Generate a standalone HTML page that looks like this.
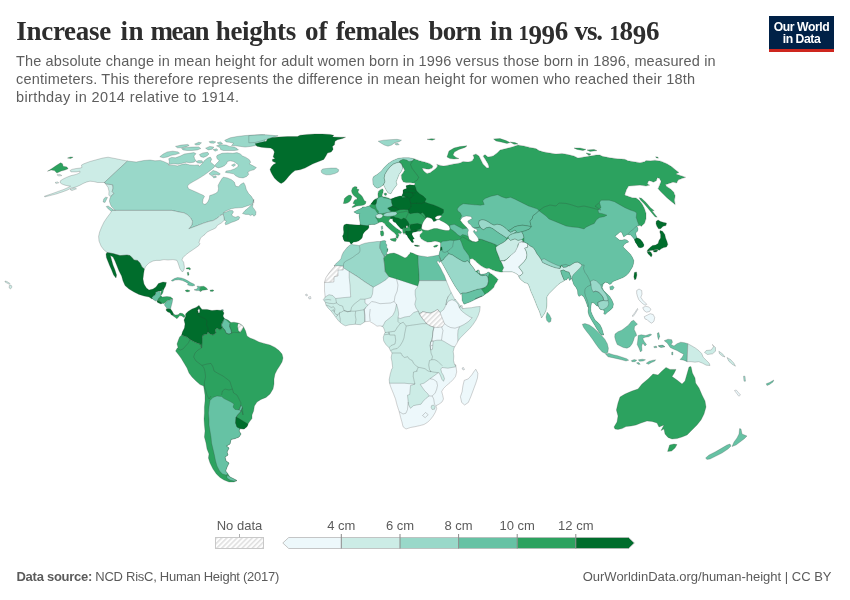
<!DOCTYPE html>
<html><head><meta charset="utf-8">
<style>
html,body{margin:0;padding:0;background:#fff;}
body{width:850px;height:600px;overflow:hidden;position:relative;font-family:"Liberation Sans",sans-serif;}
#title{position:absolute;left:16.5px;top:15.5px;font-family:"Liberation Serif",serif;font-weight:bold;font-size:27px;line-height:31px;color:#2d2d2d;white-space:nowrap;width:700px;height:31px;}
#title > span{position:absolute;top:0;}
#title i{font-style:normal;}#title i.a{font-size:20.7px;}#title i.b{position:relative;top:4.3px;}
#sub{position:absolute;left:16px;top:51.6px;font-size:14.5px;line-height:18.4px;color:#5e5e5e;white-space:nowrap;}
#logo{position:absolute;left:769px;top:15.8px;width:65px;height:36px;background:#002147;}
#logo .r{position:absolute;left:0;bottom:0;width:100%;height:2.7px;background:#ce261e;}
#logo .t{position:absolute;left:0;top:4.8px;width:100%;text-align:center;color:#fff;font-weight:bold;font-size:12.2px;line-height:12px;letter-spacing:-0.45px;}
#fl{position:absolute;left:16.5px;top:569px;font-size:13px;letter-spacing:-0.27px;color:#5b5b5b;white-space:nowrap;}
#fr{position:absolute;right:18.5px;top:569px;font-size:13px;color:#5b5b5b;white-space:nowrap;}
svg{position:absolute;left:0;top:0;}
#s1{letter-spacing:0.143px}#s2{letter-spacing:0.202px}#s3{letter-spacing:0.38px}
</style></head><body>
<div id="title"><span style="left:-0.2px;letter-spacing:-0.31px">Increase</span> <span style="left:103.9px;letter-spacing:0.73px">in</span> <span style="left:133.9px;letter-spacing:-1.30px">mean</span> <span style="left:199.3px;letter-spacing:-0.36px">heights</span> <span style="left:288.5px;letter-spacing:0.00px">of</span> <span style="left:319.2px;letter-spacing:-0.57px">females</span> <span style="left:412.1px;letter-spacing:-0.88px">born</span> <span style="left:473.6px;letter-spacing:0.23px">in</span> <span style="left:502.0px;letter-spacing:-0.4px"><i class="a">1</i><i class="b">9</i><i class="b">9</i>6</span> <span style="left:558.0px;letter-spacing:-1.09px">vs.</span> <span style="left:593.0px;letter-spacing:-0.3px"><i class="a">1</i>8<i class="b">9</i>6</span></div>
<div id="sub"><span id="s1">The absolute change in mean height for adult women born in 1996 versus those born in 1896, measured in</span><br><span id="s2">centimeters. This therefore represents the difference in mean height for women who reached their 18th</span><br><span id="s3">birthday in 2014 relative to 1914.</span></div>
<div id="logo"><div class="t">Our World<br>in Data</div><div class="r"></div></div>
<div id="fl"><b>Data source:</b> NCD RisC, Human Height (2017)</div>
<div id="fr">OurWorldinData.org/human-height | CC BY</div>
<svg width="850" height="600" viewBox="0 0 850 600">
<defs><pattern id="hatch" width="3.6" height="4" patternUnits="userSpaceOnUse" patternTransform="rotate(45)"><rect width="3.6" height="4" fill="#fdfdfd"/><rect width="1.5" height="4" fill="#dedede"/></pattern></defs>
<g stroke="#333" stroke-opacity="0.55" stroke-width="0.4" stroke-linejoin="round">
<path fill="#2ca25f" d="M47.5,171.2 51.9,168.5 56.2,165.6 60.6,162.8 62.5,163.8 63.1,166.2 66.9,166.9 68.1,168.8 65,170 61.2,171 56.9,173.1 54.4,170.6 51.2,170Z"/>
<path fill="#2ca25f" d="M67.5,158.1 70.6,156.9 73.1,157.2 70.6,158.5Z"/>
<path fill="#ccece6" d="M127.5,161 121.2,159.8 115,158.5 108.1,157.2 102.5,158.1 96.2,159.8 90,161.5 83.8,163.8 81.5,165 81.9,167.5 80,168.1 76.2,168.5 71.9,169.4 70,170.6 71,171.9 76.2,171.9 80,171.2 79.8,172.8 76.2,174.4 71.2,175.6 66.9,177.2 63.1,179 60.6,180.6 60,182.5 61.9,184 65,185.2 68.8,186 70.6,186.2 68.1,187.5 63.8,189.4 58.8,191.2 52.5,193.5 47.5,195.2 44.4,196.2 44.8,196.9 50,195.6 56.2,194 62.5,191.9 67.5,190 71.2,188.1 76.2,186.9 80,185.2 83.1,183.5 86.9,181.9 90,181.2 93.8,181.6 97.5,182.5 101.2,182.5 104.4,182.5Z"/>
<path fill="#ccece6" d="M104.4,182.5 106.2,183.8 110,184.4 112.8,184.8 113.1,188.1 112.2,191.5 114,193.5 111.5,195.6 110,196.5 108.8,195 109,191.2 108.1,187.5 106.2,184.8Z"/>
<path fill="#ccece6" d="M55,182.5 57.5,181.9 58.8,182.8 56.2,183.5Z"/>
<path fill="#ccece6" d="M56.9,174.8 60,174.4 61.9,175.6 58.8,176Z"/>
<path fill="#ccece6" d="M70,189.4 75,187.8 76.5,188.8 71.9,190.6Z"/>
<path fill="#99d8c9" d="M127.5,161 136.2,162 143.8,160.5 150,160 155,160.8 160.5,160.4 164.6,161.9 168,163.5 168.9,165.4 173.4,165.2 177.5,165.9 181.6,164.6 185.7,163.8 189.8,164.9 194.6,165.2 198.5,164.9 199.4,166.5 202.1,163.8 204.5,160.5 207.6,158.1 210.3,157.1 211.7,159.2 210.3,161.9 213.1,164.2 215.1,166 213.5,167.9 209.7,171 204.2,175.1 198.7,178.6 193.3,181.6 189.2,184 187.5,186.1 188.5,188.8 191.9,190.2 196,192 200.1,193.9 203.1,195.2 204.5,196.3 203.1,199.1 202.6,202.5 203.9,204.5 206.2,203.8 208.3,201.1 209.4,198 209.7,195.6 212.4,194.7 215.8,193.3 217.9,191.5 218.5,188.8 218.1,185.4 219.9,182 222,178.6 223.3,177.2 227.4,177.9 231.5,179.7 234.3,182 235.6,186.1 238.4,186.8 241.1,184 243.8,182.7 245.2,185.4 246.3,189.5 248.6,193.6 251.3,196.3 253.4,199.7 253.7,203.2 253.8,199.4 252.5,203.8 250,205 246.2,206.2 242.5,207.5 238.8,207.8 235,208.1 231.2,208.8 228.1,210 225,211.5 223.1,213.1 226.2,211.9 229.4,210.6 232.5,210.6 233.5,211.9 231.9,214.4 232.5,216.2 235.6,217.2 238.1,216.2 239.8,217.2 238.8,219.4 235,221.2 231.2,222.5 228.1,224 225.6,224.8 225,223.1 226.5,221.2 224.4,220.2 223.8,216.9 223.1,214 220,215.6 217.5,218.1 213.1,220.6 208.8,221.5 203.8,223.1 198.8,225 193.8,226.9 188.8,228.8 191.9,225 192.5,221.2 190.6,217.8 187.5,214.8 183.8,212.8 180,212.2 172,210.4 112,210.4 115.6,210.5 115,210 113.1,208.1 111.2,206.2 110.2,203.8 109.4,201.2 110,198.1 111.5,195.6 114,193.5 112.2,191.5 113.1,188.1 112.8,184.8 110,184.4 106.2,183.8 104.4,182.5Z"/>
<path fill="#99d8c9" d="M159.8,156.7 163.2,154 167.3,151.9 172.8,151.2 178.2,151.9 179.6,153.3 175.5,154.6 171.4,155.3 167.3,157 163.2,157.8Z"/>
<path fill="#99d8c9" d="M168.7,164.6 169.3,161.5 168.7,158.7 171.4,157.4 175.5,157.8 180.3,156 184.4,154 189.2,153.3 193.9,152.6 196,153.7 193.9,156 194.6,158.7 196,160.8 193.9,162.2 189.8,162.8 186.4,162.2 182.3,163.3 178.2,164.2 173.4,163.8Z"/>
<path fill="#99d8c9" d="M175.5,146.4 181,145.1 187.8,144.4 189.2,145.5 185.7,146.9 181.6,147.8 177.5,147.8Z"/>
<path fill="#99d8c9" d="M181.6,148.5 186.4,147.4 191.9,147.1 198.7,146.9 200.8,148.5 197.4,149.9 191.9,150.5 187.1,150.5 183,149.9Z"/>
<path fill="#99d8c9" d="M194.6,144.1 198.7,142.3 201.5,142.8 199.4,144.7 196,145.1Z"/>
<path fill="#99d8c9" d="M199.4,154.6 202.8,152.9 207.6,152.3 209,154 206.9,156 203.5,157.4 200.8,156.7Z"/>
<path fill="#99d8c9" d="M196,161.5 198.7,160.5 202.1,160.8 202.8,162.4 200.1,163.3 197.4,162.8Z"/>
<path fill="#99d8c9" d="M216.5,145.8 220.6,144.7 226.1,145.1 229.5,146.4 234.3,147.1 237,148.5 238.4,149.9 234.3,150.5 228.8,150.5 223.3,150.5 220.6,149.6 220.3,147.8Z"/>
<path fill="#99d8c9" d="M224.7,140.3 230.2,137.8 237,136.5 245.2,135.5 253.4,135.1 261.6,134.6 265,134.8 265,141.7 260.2,144.1 256.1,145.5 250.7,146.4 245.2,147.1 240.4,146.4 235.6,145.8 231.5,145.5 233.6,143.3 229.5,142.3 226.1,141.9Z"/>
<path fill="#99d8c9" d="M209,141.7 212.4,141 215.8,141.9 213.8,143.3 210.3,143Z"/>
<path fill="#99d8c9" d="M217.2,142.8 220.6,141.9 222.6,143.7 219.2,144.4Z"/>
<path fill="#99d8c9" d="M205.6,148.2 209.7,146.4 213.8,147.1 212.4,149.2 208.3,149.9Z"/>
<path fill="#99d8c9" d="M213.1,149.6 216.5,148.8 217.9,150.1 215.1,151.2Z"/>
<path fill="#99d8c9" d="M217.2,155.3 222,153.3 227.4,152.9 232.9,153.3 237,152.6 240.4,154 242.5,156 245.9,157.4 249.3,159.7 250.7,162.2 249.3,163.8 252.7,165.6 256.4,167.6 254.1,169.7 250.7,170.6 247.9,172 248.6,174.5 246.6,176.5 243.1,177.9 239,177.5 235.6,175.8 233.6,173.8 229.5,173.1 225.4,172.4 226.1,171 230.2,170.4 234.3,169 237.7,166.9 238.4,164.9 235.6,162.8 233.6,161.5 230.2,160.8 227.4,161.5 226.7,163.5 224.7,165.6 222,166.9 218.5,167.9 215.8,166.9 215.1,164.9 217.2,162.8 219.2,160.8 217.2,158.7 216.5,156.7Z"/>
<path fill="#99d8c9" d="M209,173.8 213.1,170.4 216.5,171.5 220.3,173.8 219.2,175.1 215.1,174.5 211.7,175.8Z"/>
<path fill="#99d8c9" d="M212.4,176.5 215.8,175.8 216.5,177.2 213.8,177.9Z"/>
<path fill="#99d8c9" d="M231.5,165.2 234.3,163.8 235.6,164.9 233.6,166.5Z"/>
<path fill="#99d8c9" d="M242.5,213.5 245,210.6 248.1,208.1 251.2,205 253.1,203.8 252.5,206.9 254.4,209.4 256,211.9 255.6,215 253.8,216.2 252.5,214.4 250.6,215.6 248.5,214.4 245.6,214.4Z"/>
<path fill="#99d8c9" d="M103.1,201.9 103.8,198.8 105.6,197.2 107.5,197.5 106.2,200 105,202.5Z"/>
<path fill="#99d8c9" d="M106.2,206.5 108.1,206 111.2,208.1 114.4,210.6 113.8,212.5 111.2,211.2 108.1,208.8Z"/>
<path fill="#ccece6" d="M112,210.4 172,210.4 180,212.2 183.8,212.8 187.5,214.8 190.6,217.8 192.5,221.2 191.9,225 188.8,228.8 193.8,226.9 198.8,225 203.8,223.1 208.8,221.5 213.1,220.6 217.5,218.1 220,215.6 223.1,214 223.8,216.9 224.4,220.2 221.2,223.1 217.5,225.2 215.6,228.1 212.8,229.4 210,230.6 206.9,232.2 205,234.4 202.5,236.2 200.6,238.1 199.8,240 199,242.5 200,243.8 198.8,245.6 196.2,247.5 192.5,250 188.8,252.5 185.6,255 183.1,257.5 181.9,260 183.6,262 184.4,267 184,270 182.4,272 180,269 178.4,264 177,260.4 173,259.6 168,260 164,259.6 160,260.4 156,260.4 153,261 149,263 146,266 144.4,269 142,267 140,263 137.6,260.4 134,260 132.4,258 130,255.6 127,255 120,255.6 113,253.6 107,252.4 103.6,249.6 101,246 99,241 98.6,236.4 99.6,232 101.6,227 104,222 107,217.6 110,213.6Z"/>
<path fill="#006d2c" d="M107,252.4 113,253.6 120,255.6 127,255 130,255.6 132.4,258 134,260 137.6,260.4 140,263 142,267 144.4,269 143.6,274 143,279 144,284 146.4,288 149,290 153,289 156,287 158.4,283.6 163,282 166.4,282.4 165.6,286 163.6,289.6 161.6,291 159,291 157,292 155,295 154.4,298 152,299 149,297 144,296 139,294.4 134,292 129,289 125,285.6 123,281 121.6,276 119,271 117,266 115,261 113,257 110.4,255.6 111.6,260 113,265 115,270 116.6,275 116,278 113.6,275 111.6,270 109.6,265.6 108,261.6 106.4,257.6 106,254Z"/>
<path fill="#99d8c9" d="M248.8,135.6 257.5,135 266.2,134.8 278.1,135.8 272.5,137.5 266.2,139.5 260,141.2 255,142.5 248.8,142.8Z"/>
<path fill="#006d2c" d="M255,143.8 260,142.5 266.2,141.2 267.5,139 272.5,137.5 278.8,136.9 287.5,136.5 297.5,136.5 300,135.2 307.5,134.4 315,134 322.5,134 330,134.4 333.8,135.2 332.5,136.9 340,137.2 345.6,137.2 342.5,138.5 337.5,139.8 335,141.2 334.4,145 332.5,146.2 333.1,149.4 331.2,151.9 327.5,153.1 326.2,155.6 325,157.5 323.8,159.4 320,161 316.2,162.5 312.5,164 308.8,166 305,168.1 300,169.8 295,170.6 291.9,173.1 288.8,176.2 286.2,179.4 283.8,181.9 281.2,183.5 279.4,182.5 276.9,180.6 274.4,178.1 272.5,175 271,172.2 270,169.4 271.2,166.9 273.1,164.8 276.2,163.1 272.5,161.2 272.2,159.4 275,158.5 273.1,156.9 273.8,154.4 274.4,151.9 273.1,149.4 270.6,148.1 266.2,147.8 261.2,147.2 256.9,146.2Z"/>
<path fill="#99d8c9" d="M321.2,170.6 322.5,169 326.2,168.5 331.2,168.1 336.2,168.1 338.8,169.8 338.1,171.9 335,173.5 330,174.8 326.2,174.8 323.1,173.8 321.5,172.5Z"/>
<path fill="#2ca25f" stroke="none" d="M158.1,296.9 161,295.2 162.8,298.1 162.2,303.5 159,303 157.2,301Z"/>
<path fill="#2ca25f" d="M161.9,289.4 163.5,289 163.1,291.9 161.9,294.4 160.6,295 161,291.9Z"/>
<path fill="#66c2a4" d="M155.6,291.9 160,291.2 160.6,295 160,296.9 158.8,298.1 157.5,300.2 155.6,301 153.1,299.4 151.9,297.5 153.8,295.6 155.6,294.8Z"/>
<path fill="#006d2c" d="M157.5,300.6 159.4,301.5 161.9,303.1 161.2,304 158.8,303.1 156.9,301.9Z"/>
<path fill="#2ca25f" d="M160,298.1 162.5,296.9 166.9,296.5 170.6,296.9 172.8,298.8 170,299.8 167.5,300.6 165,302.8 163.1,303.8 161.9,302.9 159.8,301.2 158.8,299.8Z"/>
<path fill="#66c2a4" d="M165,303.1 167.8,300.6 170.6,299.8 172.8,299 172.2,302.5 171.2,306.2 170.6,308.8 168.1,309 166.2,307.5 164.4,305Z"/>
<path fill="#006d2c" d="M166.2,308.8 170.6,309 172.2,311.2 173.5,313.8 172.8,315.6 171.2,314.8 170,312.8 167.8,311.9 166.2,310.6Z"/>
<path fill="#2ca25f" d="M172.8,313.8 175.6,315 178.1,314.8 180,313.1 182.5,313.5 184.4,315 185,316.9 183.8,317.5 181.9,316 179.8,315.6 178.1,317.5 176.9,318.8 175,317.2 173.1,316Z"/>
<path fill="#66c2a4" d="M171.2,280.6 174.4,278.5 177.5,277.5 181.2,277.9 184.4,279 187.5,280.6 190.6,282.5 193.8,284 195,285.2 192.5,286 189.4,285.6 187.5,284.8 188.1,283.5 185.6,281.9 182.5,280.6 178.8,279.8 175,280 172.8,281.2Z"/>
<path fill="#2ca25f" d="M186.2,268.1 189.4,267.5 190.6,268.8 190,270 188.5,269 186.5,269Z"/>
<path fill="#2ca25f" d="M187.2,272.5 188.5,272.2 189,275 187.8,275.6Z"/>
<path fill="#2ca25f" d="M185,290.6 187.2,289.8 189.8,290.6 189.4,291.6 186.9,291.9Z"/>
<path fill="#66c2a4" d="M194,289.8 196.9,289 197.8,287.2 196.9,286.2 199.4,286.2 200.2,287.8 200,290 200.6,291.5 198.8,290.6 196.2,290.6Z"/>
<path fill="#2ca25f" d="M200.2,286.5 203.8,286.2 206.2,287.8 207.8,289.4 205,290 202.5,290.2 200.6,291.5 200,290 200.2,287.8Z"/>
<path fill="#2ca25f" d="M210,290.2 212.5,289.8 214,290.5 212.5,291.4 210.2,291.2Z"/>
<path fill="#66c2a4" d="M221.2,309.8 223.1,309.4 223.5,311 221.5,311.2Z"/>
<path fill="#2ca25f" d="M181.6,335 184,336 187,337 190,339.4 193.6,341.4 197,343 200,344 201.6,348 202,343 202,338 203,335 207,334 208,332 210,334 213,335 216,333 215,330 217,328 220,330 222.4,328 221,325 222.4,322 224.4,318.6 228,320 231,322.6 234,322.2 238,323 241,324.4 243.6,327 245.6,331 247,336 250,338 254,339.4 259,342 264,343.4 270,345 275,347.4 279,350.6 282,354 283,358 282,362 279.6,366 277,370 275,374 274,379 274,384 273,389 270,394 266,397.4 261,399.4 257,402 254.4,406 253.6,411 252,415 252,418.6 250,421 248,424 247,426.6 244,429 240,428.6 239,431 241,434 239,437 235,438.6 231,439.4 230,444 226.4,446 229,448 227,452 228,455 225,457 226,461 229,463 227,467 225.6,471 228,474 230,477 234,479 237,480.6 234,482 229,482 224,480 220,477.4 216.4,474 213,469 210,463 208.4,458 209,454 207,449 206,443 204.4,437 205,431 204.4,425 204,419 204.4,413 204.4,407 205,401 205,395 203.6,386 200,384.6 196,381 192,377 189,373 187,368 184,363 181,358 178,354 175.6,351 177,348.6 178,347.4 177,344 178.4,340 179.6,337Z"/>
<path fill="#006d2c" d="M185.6,314 188,311.4 192,309 196,307.4 199,305.4 200.4,307.4 202,309.4 207,309.4 212,310.6 217,310 222.4,310.6 224,313 223,316 224.4,318.6 222.4,322 221,325 222.4,328 220,330 217,328 215,330 216,333 213,335 210,334 208,332 207,334 203,335 202,338 202,343 201.6,348 200,344 197,343 193.6,341.4 190,339.4 187,337 184,336 181.6,335 182.4,332 184.4,328 185,324 184,320 185.6,316.6Z"/>
<path fill="#66c2a4" d="M224.4,318.6 227,320.6 230,323.4 229.6,326.6 231,330 231.6,333 229,334 226,333 225,330 223,328 221.6,325 223,322Z"/>
<path fill="url(#hatch)" d="M238,323.4 241,324.6 243.6,327 242,330 240,332.6 238.4,330.6 237.6,327Z"/>
<path fill="#66c2a4" d="M210,400.6 213,397.4 217,396 221.6,396.6 224,398.6 227,400 231,402 234,404 233,407 235,409.4 239,410 241,405 242.4,407.4 240.4,412 237.6,415 236,417.4 235.6,423 237,427 240,428.6 239,431 241,434 239,437 235,438.6 231,439.4 230,444 226.4,446 229,448 227,452 228,455 225,457 226,461 229,463 227,467 225.6,471 228,474 226,475 222.4,474 219.6,471 217,466 215.6,461 214.4,455 213,449 211.6,443 211,437 210,431 209,425 209,419 208.4,413 209,407Z"/>
<path fill="#66c2a4" d="M227,475 230,477 234,479 237,480.6 234,481 230,480 227,478Z"/>
<path fill="#006d2c" d="M236,417 239,418.6 243,421 247,423.4 248,424 247,426.6 244,429 240,428.6 237,427 235.6,423Z"/>
<path fill="#edf8fb" d="M475.8,369.2 477.9,373.3 477.5,377.9 475.8,383.3 473.3,390 470.8,396.7 468.3,402.5 464.6,405 461.7,402.5 460.4,396.7 462.1,391.7 462.9,385.8 464.2,380.4 468.3,378.8 471.7,375 474.2,371.2Z"/>
<path fill="#2ca25f" d="M351.5,190.8 352.6,187.8 354.9,186.6 357.1,187 356.8,188.9 359,189.6 357.9,191.9 359,193.4 360.9,194.9 362.4,196.8 363.5,199 364.6,200.9 366.1,201.6 365.4,203.9 363.5,205 361.3,205.4 359,205.8 356.8,206.1 354.5,206.9 352.3,207.6 351.9,206.9 354.1,205.4 355.3,203.9 353,203.5 353.8,201.6 354.9,199.8 356.8,199.4 357.1,197.9 355.3,196.8 353.8,195.6 352.6,194.1 351.9,192.6Z"/>
<path fill="#2ca25f" d="M343.3,203.5 344,200.9 344.4,198.6 346.3,196.8 348.5,195.3 350.4,195.1 351.9,196.4 351.4,198.3 350.8,200.1 349.6,201.6 347.8,202.8 345.5,203.5Z"/>
<path fill="#2ca25f" d="M384.1,193.4 386,192.9 386.9,194.1 386,195.6 384.5,195.1Z"/>
<path fill="#2ca25f" d="M447,157 449,151 454,148 460,146.6 467,145.8 465,147.4 459,149.4 454.4,152 453,155 456,157.4 459,158.6 454,159 450,158.6Z"/>
<path fill="#2ca25f" d="M493.6,139 500,138.6 506,140.6 510,142.6 507,143.4 501,142 496,141Z"/>
<path fill="#2ca25f" d="M510,142 515,142.6 518,144 514,144.2Z"/>
<path fill="#2ca25f" d="M574,148 580,148 586,149.4 583,150.6 577,149.4Z"/>
<path fill="#2ca25f" d="M587,150 594,149.4 597,150.6 590,151.4Z"/>
<path fill="#2ca25f" d="M586,153 591,154 589,155.4Z"/>
<path fill="#99d8c9" d="M378.2,141.2 383.5,140.2 389.5,139.7 397,139.3 401.5,140.2 399.2,141.7 394.7,142.7 391.7,145 388,146.2 384.2,145 381.2,143.2Z"/>
<path fill="#99d8c9" d="M394.7,143.8 397.7,143.2 399.2,144.7 396.2,145Z"/>
<path fill="#2ca25f" d="M427,139.3 431.5,138.7 435.2,139 432.2,140.2Z"/>
<path fill="#2ca25f" d="M639.2,197.7 641.5,198.3 646,202.5 650.5,207.7 654.2,210.7 652,210.7 655,214.5 657.2,217.2 655,216.7 651.2,212.2 647.5,207.7 643.7,203.2 640.7,200.2Z"/>
<path fill="#2ca25f" d="M655.7,156.7 658,157.2 658.3,158.2 656.2,157.8Z"/>
<path fill="#006d2c" d="M656.2,221.2 658.1,220 660.6,221.5 663.8,222.5 666.5,223.1 666,225.6 663.1,226.2 660.6,228.8 658.5,228.8 656.9,226.2 656,223.8Z"/>
<path fill="#006d2c" d="M660,230.6 662.5,231.2 664.8,234.4 665.6,238.1 666.9,241.2 667.8,244.4 666.5,246.9 663.8,247.5 661.2,248.8 659.4,250.2 657.5,249.4 655,249.8 652.5,250.2 650,250.6 648.1,251.2 646.9,251.5 647.8,249.8 650,247.5 652.5,245.6 655.6,245 658.1,243.5 659,240.6 660.6,238.1 660.6,234.4 659.8,232.2Z"/>
<path fill="#006d2c" d="M647.2,251.9 649.4,251.2 651.2,252.5 652.2,255 651.2,256.9 649.8,255.6 648.1,253.8Z"/>
<path fill="#006d2c" d="M653.1,250.6 656.2,250 658.1,250.5 656.2,252.1 653.8,252.1Z"/>
<path fill="#006d2c" d="M634.4,272.5 636.5,271.9 636.9,275 636,278.8 634.8,280 633.8,276.9Z"/>
<path fill="#66c2a4" d="M609.7,286.7 612.7,285.7 614.2,287.5 612.7,289.7 610.2,289.7Z"/>
<path fill="#66c2a4" d="M381.2,226.5 382.5,226 382.8,229 381.5,229.5Z"/>
<path fill="#2ca25f" d="M380.5,231 383,230.8 383.8,233 383.5,235.5 381.5,236.2 380.5,234.5Z"/>
<path fill="#2ca25f" d="M390,239 393,238.5 396,238 396.5,239.5 395.5,241.5 393.5,241.2 391,240.2Z"/>
<path fill="#006d2c" d="M414.4,245 417.5,245.2 419.8,246 417.5,246.5 414.8,246Z"/>
<path fill="#2ca25f" d="M433.5,246.2 436.2,245 438.1,245.2 436.5,246.9 434,247.2Z"/>
<path fill="#66c2a4" d="M547.2,312.2 549.5,315 551.2,318.5 550.8,321.5 548.8,322.6 546.8,320.5 546,317Z"/>
<path fill="#66c2a4" d="M582.3,324.2 585,323.6 589.5,325 593.7,328 597.7,331.7 601.5,335.5 604.8,339.2 607.3,343.7 608.4,348.2 607.9,352.3 606,353.8 602.2,352 598.8,348.2 595.5,343.7 592.5,339.2 589.2,334.7 586.2,331 583.5,327.2Z"/>
<path fill="#66c2a4" d="M615,334 618,331.7 621.7,330.2 624.7,328 628.5,325 631.5,321.2 633.7,320.2 636,322.7 637.5,324.2 634.5,326.5 634.2,329.5 636,333.2 636.7,335.5 634.5,337 633.7,340 632.2,343.7 630,346.7 627,348.2 623.2,347.5 620.2,346 617.2,344.5 615.7,340.7 614.7,337Z"/>
<path fill="#edf8fb" d="M632.2,316 634.5,313 637.5,308.5 637.9,309.2 635.2,313.7 633,316.7Z"/>
<path fill="#edf8fb" d="M636.7,290.5 639,289 641.7,290.5 642,294.2 640.8,297.2 642.7,300.2 645,302.5 646.8,304.3 645,305.2 642.7,303.7 640.5,301.7 638.7,299.5 637.5,296.5 636.7,293.5Z"/>
<path fill="#edf8fb" d="M642.7,307.7 645.7,306.2 648.7,307 651,309.2 649.5,311.5 646.5,312.2 644.2,310.7Z"/>
<path fill="#edf8fb" d="M644.2,316.7 647.2,315.2 650.2,313.7 653.2,314.5 654.7,317.5 654,321.2 651.7,323.2 649.5,322 647.2,319.7 645,319Z"/>
<path fill="#66c2a4" d="M638.2,335.5 641.2,334.7 645.7,335.5 650.2,334 651.7,334.7 648.7,336.7 645,337.3 642.7,338.5 644.2,341.5 646.5,344.5 645,346 642.7,343 641.7,346 642,350.5 640.5,352 639,348.2 637.2,344.5 637.8,340Z"/>
<path fill="#66c2a4" d="M657.3,333.2 658.8,332.5 659.7,336.2 658.5,339.7 657.7,337Z"/>
<path fill="#66c2a4" d="M653.7,346.7 656.2,346 657,347.5 654.3,347.8Z"/>
<path fill="#66c2a4" d="M658.5,346 663,345.2 664.5,346.7 660,347.2Z"/>
<path fill="#006d2c" d="M602.1,333.7 603.3,333.7 603.3,334.9 602.1,334.9Z"/>
<path fill="#66c2a4" d="M605.7,354.2 608.7,353.2 613.2,354.7 617.7,355.7 622.2,357.2 626.7,358.7 628.7,360.2 626,361 621.5,359.8 617,358.7 612.5,357.7 608,356.8Z"/>
<path fill="#66c2a4" d="M631.2,360.7 634.2,359.5 636.8,360.2 635,361.7 632,361.7Z"/>
<path fill="#66c2a4" d="M638.3,359.8 642.5,359.2 645.5,359.8 643.2,361 639.5,361.3Z"/>
<path fill="#66c2a4" d="M646.2,363.2 649.2,361.3 653,360.2 655.7,359.8 654.5,361.3 651.5,362.5 648.5,364.3Z"/>
<path fill="#66c2a4" d="M636.5,362.8 638.7,362.5 640.2,364.3 638,364.3Z"/>
<path fill="#66c2a4" d="M658.2,345.7 662,345.2 665,346.7 661.2,347.5Z"/>
<path fill="#66c2a4" d="M664.2,340.7 668,339.2 671.7,339.7 672.5,342.2 671,344.5 674,346 677,343.7 680.7,342.2 684.5,342.7 687.8,343.7 687.5,352 687.2,361.7 683.7,360.2 680,359.5 682.2,357.2 683.7,354.2 680.7,352.7 677,350.5 673.2,349 670.2,347.5 668.7,345.2 667.2,343Z"/>
<path fill="#ccece6" d="M687.8,343.7 692,346 695.7,348.2 698.7,350.5 701.7,353.5 703.2,357.2 706.2,360.2 709.2,363.2 710,365.5 706.2,365.2 702.5,363.2 698.7,361.7 695,362.2 691.2,361.7 687.2,361.7 687.5,352Z"/>
<path fill="#66c2a4" d="M671.7,352.3 672.9,352 672.8,355 671.7,354.7Z"/>
<path fill="#2ca25f" d="M614,427 617,422 618,416 616.4,410 618,403 620,397 625,394 632,391 638,389 642,384 648,379 653,374 658,375 662,371 666,367.4 670,369.4 676,369.4 674,373.4 672,376.6 677,380 682,384 685,381 687,374 689,367 691,366.6 692.4,373 695,378 695.6,383 699,388 702,395 705,401 706,407 704,414 701,420 697,425 692,430 687,435 682,437 677,438.6 672,439 668,437.4 665,434 664,429 661,430.6 664,425 659,427 657,423 652,421.4 647,421 641,423 636,425 631,426 626,426.6 622,428.6 618,429.4 615,429Z"/>
<path fill="#2ca25f" d="M667.6,451.4 669.6,445 674,444 677,444.6 675,448 671.6,451Z"/>
<path fill="#66c2a4" d="M732,446.6 734,442 737,438 739,434 739.6,428.6 741,429 742,434 747,436 744,439 740,442 736,445Z"/>
<path fill="#66c2a4" d="M705.6,458 709,455 715,452 721,448.6 727,445 730,444 731,446 728,449 722,453 716,456 710,459 707,459.4Z"/>
<path fill="#ccece6" d="M704.5,352.5 706.2,350.5 711.2,350 713.8,346.2 712,344.5 715.5,347.5 715.5,351.2 712.5,353.8 707.5,354.5Z"/>
<path fill="#ccece6" d="M718.8,351.2 722.5,353.8 725,357 722.5,356.2 719.5,353.8Z"/>
<path fill="#ccece6" d="M727,357.5 730.5,359.5 733.8,363 735.5,366.2 732.5,364.5 728.8,361.2Z"/>
<path fill="#99d8c9" d="M743.5,376.2 745,376.2 745.5,381.2 744,381.2Z"/>
<path fill="#edf8fb" d="M734.5,390.5 736.2,390 740.5,395 738.8,396.2Z"/>
<path fill="#66c2a4" d="M766.2,383.8 769.5,382.5 773.8,380 773,382 769.5,384.5 767,385.5Z"/>
<path fill="#ccece6" d="M5,281 7,281.5 10,283.5 9.5,284.3 6.5,282.8 5,282Z"/>
<path fill="#ccece6" d="M9.3,285.5 11,285 12,287 10.5,289 9.2,288Z"/>
<path fill="#fff" d="M197.9,310.2 198.9,308.5 199.8,310 199.6,312.8 198.4,313Z"/>
<path fill="#edf8fb" d="M305.5,294.5 307,294 307.5,295.5 306,296Z"/>
<path fill="#edf8fb" d="M308.5,297 310.5,296.5 311,298.5 309,299Z"/>
<path fill="#edf8fb" d="M462,368 463.5,367.5 464.5,369.5 463,370Z"/>
</g>
<clipPath id="cp_africa"><path d="M351.5,244.2 353.5,244.8 356,245 359,245.5 362,244.2 365,243.2 369,242.5 373,242 377,241.5 380.5,241.5 382.5,240.8 384.5,240.5 386,241.2 385.5,243 387,245 386.5,247 388,249 387.5,251.2 386.5,253 387.2,254.5 390,253.5 394,253 398,254.5 402,256.5 405,258 407,257 408.5,255 410,253.5 410,252.5 412.5,253.1 415.6,254.4 418.1,255.6 422.5,256.2 427.5,256.9 432.5,256.2 436.2,255.6 438.8,255 440,257.8 441,261.2 439.4,262.5 438.1,260.6 436.9,261.9 438.8,265 440.6,268.1 442.5,271.9 444.4,275.6 445.6,278.8 446.2,280.6 447.5,283.8 448.8,286.9 450,290 451.9,293.8 453.8,297.5 455,300 455,299 458,302.7 460.2,305.7 462.2,305.7 462.8,308.7 467,308 471.5,307.7 476,306.8 480.2,306.5 479.7,311 478.2,315.5 476,320 473,324.5 470,328.2 466.2,332 463.2,335 460.2,338 458,341 456.5,344 454.2,347.7 453.2,351.5 453.8,356 453.5,360.5 454.7,365 455.7,365.7 455.5,364.5 456.2,367.5 456.7,372 455.5,376.5 453.2,379.5 450.2,382.5 446.5,385.5 443.5,388.5 441.7,391.5 442.7,395.2 443.5,399 442,402 439,404.2 436,405.7 436.7,408.7 435.2,412.5 433,416.2 430.7,419.2 427.7,422.2 424,424.5 419.5,425.7 415,426.7 410.5,427.5 406,429 403,426.7 402.2,423 400.7,417.7 399.2,411.7 397,405 395.5,399 393.2,393 391,387.7 389.5,383.2 389.2,379.5 390.2,374.2 391.7,369 392.7,368 392,362 391.2,357.5 392,353 390.5,350.7 389,347.7 386,344.7 383.7,341 383.3,337.2 384.5,333.5 385.2,333 384.5,330 383,326.7 380,325.8 377,326.2 374,324 369.5,321.3 365,321.7 360.5,324.7 355.2,324.3 350,324.7 345.5,325.8 343.2,324.7 340.2,322.5 338,320.2 335.7,317.2 333.5,314.2 331.2,311.2 328.2,308.2 326,305.2 325.2,302.2 323.3,299.7 325.2,297 324.5,291 324.5,282 326,277.5 329,273 332.7,268.5 335,266.2 334,266 336.5,263 339,261 341,258.5 342,255 343.5,252 345.5,249.5 347.5,247 350,245Z"/></clipPath>
<g clip-path="url(#cp_africa)" stroke="#333" stroke-opacity="0.55" stroke-width="0.4" stroke-linejoin="round">
<path fill="#edf8fb" stroke="none" d="M351.5,244.2 353.5,244.8 356,245 359,245.5 362,244.2 365,243.2 369,242.5 373,242 377,241.5 380.5,241.5 382.5,240.8 384.5,240.5 386,241.2 385.5,243 387,245 386.5,247 388,249 387.5,251.2 386.5,253 387.2,254.5 390,253.5 394,253 398,254.5 402,256.5 405,258 407,257 408.5,255 410,253.5 410,252.5 412.5,253.1 415.6,254.4 418.1,255.6 422.5,256.2 427.5,256.9 432.5,256.2 436.2,255.6 438.8,255 440,257.8 441,261.2 439.4,262.5 438.1,260.6 436.9,261.9 438.8,265 440.6,268.1 442.5,271.9 444.4,275.6 445.6,278.8 446.2,280.6 447.5,283.8 448.8,286.9 450,290 451.9,293.8 453.8,297.5 455,300 455,299 458,302.7 460.2,305.7 462.2,305.7 462.8,308.7 467,308 471.5,307.7 476,306.8 480.2,306.5 479.7,311 478.2,315.5 476,320 473,324.5 470,328.2 466.2,332 463.2,335 460.2,338 458,341 456.5,344 454.2,347.7 453.2,351.5 453.8,356 453.5,360.5 454.7,365 455.7,365.7 455.5,364.5 456.2,367.5 456.7,372 455.5,376.5 453.2,379.5 450.2,382.5 446.5,385.5 443.5,388.5 441.7,391.5 442.7,395.2 443.5,399 442,402 439,404.2 436,405.7 436.7,408.7 435.2,412.5 433,416.2 430.7,419.2 427.7,422.2 424,424.5 419.5,425.7 415,426.7 410.5,427.5 406,429 403,426.7 402.2,423 400.7,417.7 399.2,411.7 397,405 395.5,399 393.2,393 391,387.7 389.5,383.2 389.2,379.5 390.2,374.2 391.7,369 392.7,368 392,362 391.2,357.5 392,353 390.5,350.7 389,347.7 386,344.7 383.7,341 383.3,337.2 384.5,333.5 385.2,333 384.5,330 383,326.7 380,325.8 377,326.2 374,324 369.5,321.3 365,321.7 360.5,324.7 355.2,324.3 350,324.7 345.5,325.8 343.2,324.7 340.2,322.5 338,320.2 335.7,317.2 333.5,314.2 331.2,311.2 328.2,308.2 326,305.2 325.2,302.2 323.3,299.7 325.2,297 324.5,291 324.5,282 326,277.5 329,273 332.7,268.5 335,266.2 334,266 336.5,263 339,261 341,258.5 342,255 343.5,252 345.5,249.5 347.5,247 350,245Z"/>
<path fill="#99d8c9" d="M335,266.2 343.2,266.2 343.2,267.7 349.2,271.5 357.5,276.7 365,282 373.2,287.2 380,283.5 386,279.7 389,276.7 385.2,271.5 384.5,264 383.7,258 384.5,257 383.5,255 382,252.5 381,250 379.8,248 380,245 380.5,241.5 380,239 360,242 351.5,243 345,249 340,257 333,265Z"/>
<path fill="none" d="M359.2,245.5 359.8,248 360,251 359,253 356.5,254.5 354.5,256 352.5,257.5 350,259 347,260.5 344.5,262 343.5,264 343.5,266.5"/>
<path fill="url(#hatch)" d="M322.2,282.7 324.5,277.5 328.2,272.2 332,267.7 335,265.5 343.2,266.2 343.2,270 338,270 338,276 334.2,276.7 333.8,282Z"/>
<path fill="#66c2a4" d="M380.5,241.5 380,239 387,239 389,245 389,253 387.2,254.5 385.5,255 384.5,257 383.5,255 382,252.5 381,250 379.8,248 380,245Z"/>
<path fill="#2ca25f" d="M387.2,254.3 383.7,258 384.5,264 385.2,271.5 389,276.7 396.5,279 419.3,286.5 419.3,279.7 419,268.5 418.2,254.3 418.2,249 387.2,249Z"/>
<path fill="#66c2a4" d="M418.1,255.6 418.1,250 442.5,250 441.9,257.8 441,261.2 440,262.5 447.5,280.6 419.4,280.6 419,275 418.5,268.8 418.1,262.5Z"/>
<path fill="#ccece6" d="M419.3,280.7 452,280.7 455,290 453.5,293 448.2,296.7 446.7,300.5 446,305 443.7,309.5 440,312.5 437.7,309.5 434,311.7 430.2,313.2 426.5,312.5 422.7,311.7 419.3,314 418.2,311 416,308 414.8,304.2 416,299 415.2,294.5 415.2,290 417.5,286.9Z"/>
<path fill="url(#hatch)" d="M419.3,314 422.7,311.7 426.5,312.5 430.2,313.2 434,311.7 437.7,309.5 440,312.5 441.5,316.2 443,320 444.5,323.7 442.2,326.7 438.5,327.5 434,327.2 430.2,326 426.5,323.7 423.5,320 421.2,317Z"/>
<path fill="#ccece6" d="M446,305 446.7,300.5 448.2,296.7 452,291.5 458,299 462.5,305 462.2,305.7 460.2,306.2 459.5,308 458,304.2 455.7,301.2 452,299.7 448.2,301.2Z"/>
<path fill="#ccece6" d="M460.2,306.2 462.8,308.7 467,305.7 483.5,304.2 483.5,312.5 470,335 458,344 457.7,335 458,330.5 459.5,326.7 464,324.5 468.5,321.5 472.2,317.7 470,317 465.5,314 461.7,311 459.5,308Z"/>
<path fill="#ccece6" d="M349.2,271.5 357.5,276.7 365,282 373.2,287.2 372.5,294 371,297.7 365,299.2 365,303 368,305.2 365.7,307.5 364.2,309.7 365,321.7 360.5,327 350,327 342.5,327 335,319.5 329,312 323,303 321.5,298.5 325.2,297 329,294.7 332.7,295.5 335.7,298.5 342.5,297.7 350.7,297 350,285 349.2,277.5Z"/>
<path fill="#ccece6" d="M383,326 385.2,321.5 389,318.5 392.7,315.5 395,311 395.7,308 396.5,304.2 398,309.5 398.7,314 398,317.7 400.2,318.5 404.7,317 410,316.2 413.7,312.5 418.2,311 419.3,314 421.2,317 423.5,320 426.5,323.7 430.2,326 434,327.2 432.8,332 432.5,336.5 431.7,341 433.2,341 437,340.2 441.5,340.2 444.5,341.7 448.2,344 452,346.2 458,347.7 458,365.7 456.2,366.7 448,368.2 442,367.5 440.8,369.3 441.7,372.7 443.2,375 444.5,378.7 443.5,381.3 442,379.5 440.5,375.7 439,372.7 438.2,372.7 435.2,375 432.2,377.2 430,378.7 427,381 424,383.2 420.2,384.3 422.5,387.7 424.7,390.7 427.7,393.7 429.2,396 426.2,398.2 423.2,401.2 421,404.2 416.5,405 413.5,405.7 410.5,408.3 408.7,405 408.2,402 407.5,395.2 409.7,394.5 410.5,385.5 415,384 409,383.7 404.5,383.2 397,383.2 386.5,383.2 385,369 371,380 371,329Z"/>
<path fill="#edf8fb" d="M430.7,341.7 433.2,341 432.8,344.7 432.5,349.2 430.7,350 430.2,345.5Z"/>
<path fill="#ccece6" d="M431.5,405.7 433.7,405 435.2,406.8 434.5,409.2 432.2,409.5 431.2,407.7Z"/>
<path fill="#edf8fb" d="M422.5,415.5 425.5,412.5 428.2,414.7 425.2,417.7Z"/>
<path fill="none" d="M350.7,311.2 351.5,307.5 353.7,304.5 357.5,301.5 360.5,299.2 365,299.2"/>
<path fill="none" d="M335.7,298.5 336.5,303 339.5,305.2 342.5,306 344,310.5 347.7,311.7 350.7,311.2"/>
<path fill="none" d="M325.2,302.2 329,303.3 333.5,303.7 336.5,303"/>
<path fill="none" d="M324.2,300 328.2,299.5 331.2,300"/>
<path fill="none" d="M326,305.2 329,306 331.2,307.5 333.5,306.7 335,309 334.2,312 335.7,314.2 338,315 339.5,312.7 341.7,312 344,310.5"/>
<path fill="none" d="M331.2,311.2 333.5,309.7 334.2,312"/>
<path fill="none" d="M335.7,317.2 338,315"/>
<path fill="none" d="M340.2,322.5 340.2,318.7 339.5,315.7 339.5,312.7"/>
<path fill="none" d="M344,310.5 347.7,311.7 350.7,311.2 354.8,311.2 359.3,310.5 364.2,309.7 365.7,307.5"/>
<path fill="none" d="M355.7,311.2 355.2,315 356,319.5 355.2,324.3"/>
<path fill="none" d="M364.2,309.7 365,315 364.7,321.7"/>
<path fill="none" d="M370.2,309 369.5,315 370.2,321"/>
<path fill="none" d="M368,305.2 371.7,301.5"/>
<path fill="none" d="M371.7,301.5 375.5,302.2 380,303.7 386,303.3 390.5,303 394.2,301.5"/>
<path fill="none" d="M396.5,279 398,285 397.2,291 395,296.2 394.2,301.5 396.5,304.5"/>
<path fill="none" d="M384.5,332.7 389,332 395,331.2 397.2,327.5 400.2,323.7 398,321.5 398,317.7"/>
<path fill="none" d="M400.2,323.7 403.2,322.2 406.2,326 411.5,325.2 416.7,324.5 422,323.7 426.5,323.7"/>
<path fill="none" d="M389,332.7 389.7,335 395,335 395.7,340.2 395,344 391.2,345.5 389,347.7"/>
<path fill="none" d="M406.2,326 405.5,329.7 404.7,333.5 404,338 402.5,341.7 400.2,345.5 397.2,348.5 393.5,349.2 390.5,350.7"/>
<path fill="none" d="M384.5,334.7 389,334.2 389,332"/>
<path fill="none" d="M392,353 396.5,353 401,353 402.5,356 404.7,357.5 407.7,356.7 409.2,359 412.2,360.5 413.7,363.5 416,365.7 418.2,367.2"/>
<path fill="none" d="M418.2,367.2 422,368 425,368.7 428,371 431,371.7 429.5,369.5 428.7,365 429.5,360.5 431.7,359.7"/>
<path fill="none" d="M418.2,367.2 416.7,371 417.2,371.2 413.5,372 413.2,376.5 414.2,381 415,384"/>
<path fill="none" d="M434,327.2 432.8,332 432.5,336.5 431.7,341 430.7,341.7 430.2,345.5 430.7,350 431,353 432.5,356.7 431.7,359.7 434.7,359.7 437.7,361.2 440,363.5 442.2,365.7"/>
<path fill="none" d="M442.2,326.7 441.8,327.5 443,330.5 442.2,335 441.5,340.2"/>
<path fill="none" d="M444.5,323.7 447.5,326 450.5,327.5 455,328.2 459.5,326.7"/>
<path fill="none" d="M430.7,345.8 432.8,345.2"/>
<path fill="none" d="M399.2,411.7 400.7,412.5 403,414 406,413.2 407.5,409.5 408.2,402"/>
<path fill="none" d="M430,378.7 433.7,379.5 436.7,381.7 437.5,385.5 436.7,389.2 435.2,393 432.2,396 429.2,396"/>
<path fill="none" d="M432.2,396 433.7,399 434.5,404.2 436,405.7"/>
<path fill="none" d="M430,371.2 433,372 438.2,372.7"/>
</g>
<path fill="none" stroke="#333" stroke-opacity="0.55" stroke-width="0.4" stroke-linejoin="round" d="M351.5,244.2 353.5,244.8 356,245 359,245.5 362,244.2 365,243.2 369,242.5 373,242 377,241.5 380.5,241.5 382.5,240.8 384.5,240.5 386,241.2 385.5,243 387,245 386.5,247 388,249 387.5,251.2 386.5,253 387.2,254.5 390,253.5 394,253 398,254.5 402,256.5 405,258 407,257 408.5,255 410,253.5 410,252.5 412.5,253.1 415.6,254.4 418.1,255.6 422.5,256.2 427.5,256.9 432.5,256.2 436.2,255.6 438.8,255 440,257.8 441,261.2 439.4,262.5 438.1,260.6 436.9,261.9 438.8,265 440.6,268.1 442.5,271.9 444.4,275.6 445.6,278.8 446.2,280.6 447.5,283.8 448.8,286.9 450,290 451.9,293.8 453.8,297.5 455,300 455,299 458,302.7 460.2,305.7 462.2,305.7 462.8,308.7 467,308 471.5,307.7 476,306.8 480.2,306.5 479.7,311 478.2,315.5 476,320 473,324.5 470,328.2 466.2,332 463.2,335 460.2,338 458,341 456.5,344 454.2,347.7 453.2,351.5 453.8,356 453.5,360.5 454.7,365 455.7,365.7 455.5,364.5 456.2,367.5 456.7,372 455.5,376.5 453.2,379.5 450.2,382.5 446.5,385.5 443.5,388.5 441.7,391.5 442.7,395.2 443.5,399 442,402 439,404.2 436,405.7 436.7,408.7 435.2,412.5 433,416.2 430.7,419.2 427.7,422.2 424,424.5 419.5,425.7 415,426.7 410.5,427.5 406,429 403,426.7 402.2,423 400.7,417.7 399.2,411.7 397,405 395.5,399 393.2,393 391,387.7 389.5,383.2 389.2,379.5 390.2,374.2 391.7,369 392.7,368 392,362 391.2,357.5 392,353 390.5,350.7 389,347.7 386,344.7 383.7,341 383.3,337.2 384.5,333.5 385.2,333 384.5,330 383,326.7 380,325.8 377,326.2 374,324 369.5,321.3 365,321.7 360.5,324.7 355.2,324.3 350,324.7 345.5,325.8 343.2,324.7 340.2,322.5 338,320.2 335.7,317.2 333.5,314.2 331.2,311.2 328.2,308.2 326,305.2 325.2,302.2 323.3,299.7 325.2,297 324.5,291 324.5,282 326,277.5 329,273 332.7,268.5 335,266.2 334,266 336.5,263 339,261 341,258.5 342,255 343.5,252 345.5,249.5 347.5,247 350,245Z"/>
<clipPath id="cp_eurasia"><path d="M351.5,244 350.5,243.5 349.5,241.8 347,241.5 344.5,241.2 343.5,239.5 343,237.5 342.5,236 343.5,234.5 343.8,232 343.5,229.5 343.5,227 344,225 346.5,224 350,224.5 354,224.8 358,225 360,225 360,222.5 359.5,219 359,215 360,213.8 356.9,213.8 353.8,211.9 357.5,210 361.9,208.1 362.5,206.9 365.6,206.9 368.8,206 370,205 371,203.8 374,200 375.2,199 376.7,198.2 378.2,197.5 377.8,194.5 378.4,191.2 380.2,189.7 382.6,188.8 383.5,190.3 382.9,193 382,196 383.5,196.7 386.5,197.2 391,199 395.5,197.2 400,196 401.8,196 403,193 403,190 404.5,189.2 406.7,188.5 406,185.8 409.7,184.7 414.2,185.2 415,183.2 410.5,182.8 406,182.8 403,181.7 401.5,178.7 401.2,175 403,172.7 404.5,170.5 403.7,168.2 403,167.5 401.5,171.2 399.2,174.2 397.7,178 396.2,181.7 397,184.7 394.7,187.7 392.5,190.7 391,193.7 388,193 385.7,189.2 384.2,186.2 383.5,184.7 380.5,187 377.5,188.2 374.8,186.7 373,184 372.7,178.7 373.7,176.5 377.5,174.2 381.2,171.2 384.2,167.5 388,163.7 392.5,160.7 397.7,158.5 403,157.7 409,157.7 414.2,158.8 419.5,160.7 425.5,162.2 430,163.7 433,166 432.2,168.2 428.5,169.3 424.7,168.7 422.2,168.2 424,171.2 427,173.5 430,172.7 433,170.5 436,168.2 437.5,166 436.7,164.2 439.7,165.2 443.5,166 448,165.2 452.5,164.2 460,163 463,161.4 468,162 472,161 474,158 473,155 476,154 479,156 481,160 483,164 485,166 487,168 489,167.4 488,164 485.6,160 483,156 485,154.6 488,157 493,156 497,153 500,150 506,148.6 512,147 518,145 524,146 530,147.4 536,148.6 539,150.6 544,152 550,153 556,154 562,153.4 568,154.6 574,156 578,158 584,157 590,156 596,155 600,155 602.5,156.3 610,157.8 617.5,158.7 625,159.3 628,160.8 634,161.7 640,162.7 644.5,161.7 646,160.5 650.5,160.8 655,160.2 661,161.2 667,163.8 671.5,166.5 676,170.2 679,172.5 676,174 680.5,175.5 685.7,177.3 682,178.5 678.2,180 676.7,183 673,182.2 668.5,183.7 665.5,184.8 667,186.7 670.7,189 673.7,192 675.2,195.7 674.5,200.2 675.2,204.7 671.5,201.7 667,198 663.2,194.2 660.2,191.2 658,188.7 659.5,185.2 661,181.5 659.5,178.5 657.2,177.7 656.5,180.7 653.5,182.2 649.7,180.7 648.2,181.5 647.5,183.7 649.7,185.2 646,186 640,185.2 634,185.7 628.7,186 626.5,189.7 624.7,195 629.5,196.8 632.5,197.7 636.2,198 639.2,200.2 642.2,204 644.5,208.5 646,213 646,219 644.5,223.5 641.5,226.2 641.9,226.2 639.4,225.6 636.9,226.2 638.1,228.8 637.5,231.2 635.6,233.1 636.2,235.6 636.9,237.8 640,239 642.5,241.9 644,245 643.1,246.9 640.6,247.8 638.5,247.2 636.9,244.4 635.2,241.9 634.4,239.4 632.5,236.9 630.6,235 627.5,234.4 625.6,235.6 623.8,236.9 622.8,235 621.9,232.5 620,231.9 618.1,233.8 615,236.2 616.9,238.1 619.4,240 621.9,240.2 624.4,239.4 626.9,240 628.8,241.9 626.2,243.1 623.8,245 623.1,246.9 625.6,249.4 628.1,251.9 630.6,254.4 632.5,257.5 633.8,260.6 633.5,263.8 632.5,266.9 630.6,270 628.8,273.1 626.2,275.6 623.1,277.5 620,278.8 616.9,280 613.8,281.2 612.7,281.8 611.2,283.7 609.7,284.5 607.5,282.7 605.2,282.2 603,284.5 602.2,287.5 603.7,290.5 606.7,293.5 609.7,296.5 612,300.2 613.5,304 612.7,307.7 610.5,310 607.5,312.2 605.2,314.5 603.7,313.7 604.5,310.7 602.7,310 600,309.2 598.2,306.2 596.2,305.5 594.3,303.2 591.7,302.5 591.1,305.5 590.7,308.5 591,311.5 592.2,314.5 593.7,317.5 595.2,320.2 597.7,322.3 600,324.7 601.8,328.3 603,332.2 603.6,335 601.5,334.9 599.1,332.2 596.7,328.7 594.4,324.7 592.2,321.2 590.5,318.2 588.9,315.2 588,311.5 588.4,307.7 587.7,307 586.5,303.2 585,299.5 583.5,296.5 581.2,295 579,296.5 577.8,294.2 577.5,290.5 576,287.5 573.7,284.5 572.2,280 571.2,278.2 569.7,280.5 568.2,277.5 566.7,279.7 564.5,280.2 563.7,281.2 560.7,282.7 557.7,285 554.7,288 551.7,291 548.7,294 546.8,297 546.9,301.5 546.8,306 546,310.5 544.4,313.8 541.5,318 539.3,311.2 537.2,306.7 535.2,301.5 533,296.2 530.7,291 529.2,286.5 527.7,283.5 524.7,282.7 521.7,280.5 519.5,278.2 518,274.8 515,273 512,271.8 508.2,271.8 503.7,271.8 501.5,272.2 497,271.5 492.5,270 489.5,268.5 490,268.1 486.9,268.8 483.8,267.5 480.6,265.6 477.5,263.1 475,260.6 472.5,258.8 470,259 469.8,262.5 471.2,265 473.8,268.1 475.6,271.2 476.9,270.6 478.1,269.8 479.4,270.6 479.4,273.1 481.2,274.4 483.8,274 486.2,273.5 488.1,271.9 489.4,272.5 490,273.1 492.5,274.4 495.6,276.9 498.1,279.4 496.9,281.9 495,284.4 493.8,287.5 491.2,290 488.1,292.5 485,294.4 482.5,296.2 478.8,297.5 475,298.8 482,296 476,299 470,302 464,304.2 462.2,300.5 461.7,293 460.6,294.4 459.4,292.5 457.5,290 455,286.2 452.5,281.9 450,277.5 447.5,273.1 445.6,269.4 443.8,266.2 441.9,263.1 441,261.2 440,257.8 439,255 439.8,251 440.4,250 440.6,247.5 440.6,243.1 438.8,241.9 435,241.2 431.2,241.9 427.5,242.2 423.8,240.6 421.2,238.8 419.8,236.5 420,234.4 422.5,231.9 421.9,230.6 419.4,231.5 417.5,231.2 415,231.9 412.5,232.5 411.9,234.4 413.1,236.9 414.4,238.8 412.5,239.4 413.8,242.2 411.9,242.5 410,240 408.1,237.5 406.9,235 405.6,234.4 405.2,232.5 404,234.4 402.8,232.5 402.2,229 400.6,228.5 400,227.8 397.5,225 395.6,222.5 393.8,221.9 392.5,220 393.1,218.8 390.6,218.8 390,219.4 389,220 388.8,221.5 390.6,223.1 393.8,226 396.9,228.5 400,230.6 401.9,232.5 400.2,234 398.5,233.1 399,235.6 397.8,238.4 396,237.8 396.2,235.2 394.4,233.1 391.9,231.2 388.8,228.5 386.2,226 384.4,223.5 381.9,221.9 379.4,222.5 378.1,223.1 375,224.4 371.9,224.4 368.8,224.8 368.8,227.2 368.8,227.5 368,229 366,230.5 364.5,232 363,234 362.5,236 362.2,238 360.5,239.5 358.5,241 356,241.8 353.5,242Z"/></clipPath>
<g clip-path="url(#cp_eurasia)" stroke="#333" stroke-opacity="0.55" stroke-width="0.4" stroke-linejoin="round">
<path fill="#2ca25f" stroke="none" d="M351.5,244 350.5,243.5 349.5,241.8 347,241.5 344.5,241.2 343.5,239.5 343,237.5 342.5,236 343.5,234.5 343.8,232 343.5,229.5 343.5,227 344,225 346.5,224 350,224.5 354,224.8 358,225 360,225 360,222.5 359.5,219 359,215 360,213.8 356.9,213.8 353.8,211.9 357.5,210 361.9,208.1 362.5,206.9 365.6,206.9 368.8,206 370,205 371,203.8 374,200 375.2,199 376.7,198.2 378.2,197.5 377.8,194.5 378.4,191.2 380.2,189.7 382.6,188.8 383.5,190.3 382.9,193 382,196 383.5,196.7 386.5,197.2 391,199 395.5,197.2 400,196 401.8,196 403,193 403,190 404.5,189.2 406.7,188.5 406,185.8 409.7,184.7 414.2,185.2 415,183.2 410.5,182.8 406,182.8 403,181.7 401.5,178.7 401.2,175 403,172.7 404.5,170.5 403.7,168.2 403,167.5 401.5,171.2 399.2,174.2 397.7,178 396.2,181.7 397,184.7 394.7,187.7 392.5,190.7 391,193.7 388,193 385.7,189.2 384.2,186.2 383.5,184.7 380.5,187 377.5,188.2 374.8,186.7 373,184 372.7,178.7 373.7,176.5 377.5,174.2 381.2,171.2 384.2,167.5 388,163.7 392.5,160.7 397.7,158.5 403,157.7 409,157.7 414.2,158.8 419.5,160.7 425.5,162.2 430,163.7 433,166 432.2,168.2 428.5,169.3 424.7,168.7 422.2,168.2 424,171.2 427,173.5 430,172.7 433,170.5 436,168.2 437.5,166 436.7,164.2 439.7,165.2 443.5,166 448,165.2 452.5,164.2 460,163 463,161.4 468,162 472,161 474,158 473,155 476,154 479,156 481,160 483,164 485,166 487,168 489,167.4 488,164 485.6,160 483,156 485,154.6 488,157 493,156 497,153 500,150 506,148.6 512,147 518,145 524,146 530,147.4 536,148.6 539,150.6 544,152 550,153 556,154 562,153.4 568,154.6 574,156 578,158 584,157 590,156 596,155 600,155 602.5,156.3 610,157.8 617.5,158.7 625,159.3 628,160.8 634,161.7 640,162.7 644.5,161.7 646,160.5 650.5,160.8 655,160.2 661,161.2 667,163.8 671.5,166.5 676,170.2 679,172.5 676,174 680.5,175.5 685.7,177.3 682,178.5 678.2,180 676.7,183 673,182.2 668.5,183.7 665.5,184.8 667,186.7 670.7,189 673.7,192 675.2,195.7 674.5,200.2 675.2,204.7 671.5,201.7 667,198 663.2,194.2 660.2,191.2 658,188.7 659.5,185.2 661,181.5 659.5,178.5 657.2,177.7 656.5,180.7 653.5,182.2 649.7,180.7 648.2,181.5 647.5,183.7 649.7,185.2 646,186 640,185.2 634,185.7 628.7,186 626.5,189.7 624.7,195 629.5,196.8 632.5,197.7 636.2,198 639.2,200.2 642.2,204 644.5,208.5 646,213 646,219 644.5,223.5 641.5,226.2 641.9,226.2 639.4,225.6 636.9,226.2 638.1,228.8 637.5,231.2 635.6,233.1 636.2,235.6 636.9,237.8 640,239 642.5,241.9 644,245 643.1,246.9 640.6,247.8 638.5,247.2 636.9,244.4 635.2,241.9 634.4,239.4 632.5,236.9 630.6,235 627.5,234.4 625.6,235.6 623.8,236.9 622.8,235 621.9,232.5 620,231.9 618.1,233.8 615,236.2 616.9,238.1 619.4,240 621.9,240.2 624.4,239.4 626.9,240 628.8,241.9 626.2,243.1 623.8,245 623.1,246.9 625.6,249.4 628.1,251.9 630.6,254.4 632.5,257.5 633.8,260.6 633.5,263.8 632.5,266.9 630.6,270 628.8,273.1 626.2,275.6 623.1,277.5 620,278.8 616.9,280 613.8,281.2 612.7,281.8 611.2,283.7 609.7,284.5 607.5,282.7 605.2,282.2 603,284.5 602.2,287.5 603.7,290.5 606.7,293.5 609.7,296.5 612,300.2 613.5,304 612.7,307.7 610.5,310 607.5,312.2 605.2,314.5 603.7,313.7 604.5,310.7 602.7,310 600,309.2 598.2,306.2 596.2,305.5 594.3,303.2 591.7,302.5 591.1,305.5 590.7,308.5 591,311.5 592.2,314.5 593.7,317.5 595.2,320.2 597.7,322.3 600,324.7 601.8,328.3 603,332.2 603.6,335 601.5,334.9 599.1,332.2 596.7,328.7 594.4,324.7 592.2,321.2 590.5,318.2 588.9,315.2 588,311.5 588.4,307.7 587.7,307 586.5,303.2 585,299.5 583.5,296.5 581.2,295 579,296.5 577.8,294.2 577.5,290.5 576,287.5 573.7,284.5 572.2,280 571.2,278.2 569.7,280.5 568.2,277.5 566.7,279.7 564.5,280.2 563.7,281.2 560.7,282.7 557.7,285 554.7,288 551.7,291 548.7,294 546.8,297 546.9,301.5 546.8,306 546,310.5 544.4,313.8 541.5,318 539.3,311.2 537.2,306.7 535.2,301.5 533,296.2 530.7,291 529.2,286.5 527.7,283.5 524.7,282.7 521.7,280.5 519.5,278.2 518,274.8 515,273 512,271.8 508.2,271.8 503.7,271.8 501.5,272.2 497,271.5 492.5,270 489.5,268.5 490,268.1 486.9,268.8 483.8,267.5 480.6,265.6 477.5,263.1 475,260.6 472.5,258.8 470,259 469.8,262.5 471.2,265 473.8,268.1 475.6,271.2 476.9,270.6 478.1,269.8 479.4,270.6 479.4,273.1 481.2,274.4 483.8,274 486.2,273.5 488.1,271.9 489.4,272.5 490,273.1 492.5,274.4 495.6,276.9 498.1,279.4 496.9,281.9 495,284.4 493.8,287.5 491.2,290 488.1,292.5 485,294.4 482.5,296.2 478.8,297.5 475,298.8 482,296 476,299 470,302 464,304.2 462.2,300.5 461.7,293 460.6,294.4 459.4,292.5 457.5,290 455,286.2 452.5,281.9 450,277.5 447.5,273.1 445.6,269.4 443.8,266.2 441.9,263.1 441,261.2 440,257.8 439,255 439.8,251 440.4,250 440.6,247.5 440.6,243.1 438.8,241.9 435,241.2 431.2,241.9 427.5,242.2 423.8,240.6 421.2,238.8 419.8,236.5 420,234.4 422.5,231.9 421.9,230.6 419.4,231.5 417.5,231.2 415,231.9 412.5,232.5 411.9,234.4 413.1,236.9 414.4,238.8 412.5,239.4 413.8,242.2 411.9,242.5 410,240 408.1,237.5 406.9,235 405.6,234.4 405.2,232.5 404,234.4 402.8,232.5 402.2,229 400.6,228.5 400,227.8 397.5,225 395.6,222.5 393.8,221.9 392.5,220 393.1,218.8 390.6,218.8 390,219.4 389,220 388.8,221.5 390.6,223.1 393.8,226 396.9,228.5 400,230.6 401.9,232.5 400.2,234 398.5,233.1 399,235.6 397.8,238.4 396,237.8 396.2,235.2 394.4,233.1 391.9,231.2 388.8,228.5 386.2,226 384.4,223.5 381.9,221.9 379.4,222.5 378.1,223.1 375,224.4 371.9,224.4 368.8,224.8 368.8,227.2 368.8,227.5 368,229 366,230.5 364.5,232 363,234 362.5,236 362.2,238 360.5,239.5 358.5,241 356,241.8 353.5,242Z"/>
<path fill="#99d8c9" d="M370,179.5 372.2,175 376.7,172 380.5,169 383.5,165.2 387.2,161.5 391.7,158.5 397,156.2 403,155.5 409.7,155.8 415,157.7 414.2,158.8 412.7,160.7 409,161.5 406.7,160 403,159.2 400,160.7 399.2,162.2 396.2,163 393.2,164.2 390.2,166.7 387.2,170.5 385,174.2 384.2,178 385,181.7 383.5,184.7 380.5,188.5 376.7,189.2 373,187.7 370.7,184Z"/>
<path fill="#ccece6" d="M385,174.2 387.2,170.5 390.2,166.7 393.2,164.2 396.2,163 399.2,162.2 401.5,163.7 403,167.5 404.5,169.3 403,172 400,175 398.8,178.7 397.3,181.7 398.2,185.2 395.8,188.5 393.2,191.5 391.7,194.8 387.7,194.2 385,190 383.2,186.2 383.5,184.7 385,181.7 384.2,178Z"/>
<path fill="none" d="M400,160.7 399.2,162.2 401.5,163.7 403,167.5"/>
<path fill="none" d="M414.2,158.8 412.7,160.7 410.5,164.5 412,168.2 414.2,171.2 416.5,174.2 418.7,177.2 417.2,180.2 414.2,181.7"/>
<path fill="#006d2c" d="M405.2,185.5 409.7,184.3 414.5,184.9 415.7,187.7 416.5,190.7 419.5,193.7 423.2,196 426.2,199 424.7,202 428.5,203.5 433.7,205 439,207.2 443.5,209.5 443.5,212.5 443.5,212.5 441.2,215 437.5,215.6 436.2,216.9 436.2,218.1 437.5,220 436.2,221.9 427.5,221.9 425.8,218.8 425.8,217 424.5,214.5 422.5,212.5 420.6,213.8 418.1,212.8 413.8,213.1 410,213.8 408.8,212.5 408.1,209.8 403.8,209.4 399.4,209.8 397.5,210.6 395,211.2 391.9,211 389.4,210 387.5,208.1 391.2,206.5 392.5,205.6 391.5,202.8 391.2,200 391,198.2 395.5,196.3 400,195.2 401.8,195.4 402.7,193 402.4,190 404.2,188.8 406,188.2 404.8,185.8Z"/>
<path fill="#2ca25f" d="M401.2,195.7 404.2,196 406,197.2 402.2,197.8Z"/>
<path fill="none" d="M406.7,188.5 409,188.8 413.5,189.2 416.5,190.7"/>
<path fill="none" d="M403,193 404.5,192.7 408.2,192.2 412,192.7 415.7,193"/>
<path fill="none" d="M404.2,196 407.5,197.2 409.7,199 410.5,202.7 411.2,206.5 409.7,208.7 408.1,209.8"/>
<path fill="none" d="M412,192.7 413.5,195.2 411.2,197.5 409.7,199"/>
<path fill="none" d="M410.5,202.7 412,203.5 416.5,203.2 421.7,203.5 424.7,202"/>
<path fill="none" d="M391.2,206.5 395.6,207.5 399.4,209.8"/>
<path fill="#66c2a4" d="M375.6,205.6 376.2,201.9 377.8,198.1 379.4,197.2 381.9,196.5 383.8,197.8 387.5,198.5 391.2,199.8 391.5,202.8 392.5,205.6 391.2,206.5 387.5,208.1 389.4,210.2 391.2,211.2 388.8,212.5 385,213.1 381.2,213.8 378.1,213.8 378.5,211.2 376.5,209Z"/>
<path fill="#006d2c" d="M370.6,203.8 373.8,199.8 376.5,199.5 376.5,201.9 376,204 374.4,204.8 372.2,204.2Z"/>
<path fill="#66c2a4" d="M352.5,211.2 357.5,209 361.9,207.2 365.6,206.2 368.8,205.5 371.9,208 375,209.2 376.2,211.2 378.1,213.8 376.9,215.6 375.6,217.5 377.5,220 378.5,223.5 375,225 371.9,225 368.8,225.2 366.9,226.2 363.8,225.6 360.6,224.8 358.8,223.1 358.8,215.6 356.2,214.4Z"/>
<path fill="#ccece6" d="M375.6,215.6 378.1,214.1 381.2,214.1 383.1,215.6 381.9,217.5 379.4,218.5 376.9,218.1Z"/>
<path fill="#99d8c9" d="M383.1,215.6 384.4,213.8 387.5,212.5 391.9,211.9 396.2,211.9 397.2,213.8 395,215.6 391.2,216.2 387.5,216.5 385,216.2Z"/>
<path fill="#006d2c" d="M342,223 370,226 370,228.5 364.5,232.5 363,236.5 360,240.5 356,242.5 351.5,245 349,243 342,242 341,235Z"/>
<path fill="none" d="M348.5,224.5 348,227 348.8,229 348,231 347.8,234 347.5,237 347.8,240 347.2,241.5"/>
<path fill="#006d2c" d="M390.6,216.9 393.8,216.5 395.2,217.5 398.1,218.1 401.2,219.4 403.8,218.1 406.2,219.4 408.1,221.9 409.4,224.4 408.1,226.9 405.6,228.1 403.8,227.2 403.1,227.8 401.9,229.4 400,228.5 398.1,226.9 395.6,224.4 393.8,221.9 391.9,220 390.6,219Z"/>
<path fill="none" d="M402.2,229 403.8,227.8 405.2,229.4 405.6,232.5"/>
<path fill="url(#hatch)" d="M406,226 407.2,225.6 407.9,226.9 407.2,228.1 406.2,227.8Z"/>
<path fill="#006d2c" d="M405.2,232.5 406,231 408.8,231.2 411.2,230.6 414.4,230.2 416.9,229.8 418.1,231.5 415,232.2 412.5,232.8 412.2,234.4 413.8,236.9 415,239 413.1,239.8 414.4,242.8 411.9,243.1 409.8,240.2 407.8,237.8 406.5,235.2 405.4,234.8Z"/>
<path fill="#006d2c" d="M410.6,224.4 413.8,224 417.5,223.5 421.2,224.4 422.5,226.9 420,228.8 417.5,229.8 414.4,230.2 411.2,230.6 410,228.1 409.8,226Z"/>
<path fill="none" d="M397.2,213.8 399.4,212.5 403.1,211.9 406.2,211.2 408.8,212.5"/>
<path fill="none" d="M406.2,219.4 405.6,218.8 407.5,214.8 408.8,212.5"/>
<path fill="none" d="M421.2,224.4 421.9,226.9 419.4,229.4 417.5,231.2"/>
<path fill="none" d="M425.8,217 425,218.2 423.1,216 420.6,213.8"/>
<path fill="#66c2a4" d="M449.7,225.2 454.2,224.3 458.7,226.7 462.5,228.8 466.7,228.2 470.7,227.7 470.7,237.5 465.5,235.2 462.5,234.5 460.2,236.3 457.7,234.8 455.7,232.7 452.7,230.3 450.2,228.8Z"/>
<path fill="#66c2a4" d="M440.6,243.1 442.5,241.2 446.2,241 450,240.2 453.8,240.6 457.5,240 460,239.4 461.5,242.5 462.5,245.6 463.8,248.8 466.2,251.9 468.8,255.6 469.8,258.8 471,261.2 469.4,262.8 467.5,260.6 465,261.9 462.5,261.2 459.4,259.4 456.2,257.5 452.5,255 448.8,253.8 446.9,255.6 445,257.5 443.1,260 441,261 439.8,257.8 438.1,255 439,251 440,250 440.2,247.5Z"/>
<path fill="#006d2c" d="M440,247.5 441.9,246.9 442.2,249.4 441.2,250.6 439.8,250.2Z"/>
<path fill="none" d="M453.8,240.6 453.1,243.8 452.5,246.9 450,249.4 447.5,251.2 448.8,253.8"/>
<path fill="none" d="M442.2,249.4 442.8,251.9 445,252.5 447.5,251.2"/>
<path fill="#99d8c9" d="M443.1,260 445,257.5 446.9,255.6 448.8,253.8 452.5,255 456.2,257.5 459.4,259.4 462.5,261.2 465,261.9 467.5,260.6 469.4,262.8 471.2,265 473.8,268.1 475.6,271.2 478.1,273.1 480,275 482.5,275.6 486.2,275 488.1,277.5 488.5,281.2 487.5,285 485,287.5 481.2,288.8 477.5,289.4 473.8,290.6 470,291.9 466.2,293.1 462.5,293.1 460.6,294.4 458.8,293.1 456.9,290 454.4,286.2 451.9,281.9 449.4,277.5 446.9,273.1 445,269.4 443.1,266.2 441.2,263.1 440.6,261.2Z"/>
<path fill="#99d8c9" d="M477.2,270.6 478.8,269.8 479.6,272.5 478.1,273.8Z"/>
<path fill="#66c2a4" d="M460.6,294.4 462.5,293.1 466.2,293.1 470,291.9 473.8,290.6 477.5,289.4 481.2,288.8 483.1,291.2 485,294.4 485,305 460,305 459.4,295Z"/>
<path fill="#66c2a4" d="M480,275 482.5,275.6 486.2,275 488.1,277.5 488.8,275 489.8,272.2 488.1,271.5 486.2,273.1 483.8,273.8 481.2,274.1 479.4,273.5Z"/>
<path fill="none" d="M481.2,288.8 485,287.5 487.5,285 488.5,281.2 488.1,277.5"/>
<path fill="none" d="M460,238.8 462.5,236.9 465,238.1 468.8,240.6 472.5,241.9 478.7,240.8 479.3,239 482.7,239.7 486.5,241.2 491,242.7 494.7,244.2 495.8,247.2 496.2,250.2 497.7,254 499.2,257.7 500,260.7 503,264.5 504.5,269"/>
<path fill="#66c2a4" d="M457.2,209 459.5,206 463.2,203.7 468.5,204.2 474.5,204.8 480.5,205.2 484.2,204.5 482.7,200.7 485,198.5 491,196.2 497.7,194.7 501.5,196.7 506,198.2 510.5,197.3 515,199.2 519.5,201.5 524,203.7 528.5,206 533,207.5 537.5,209 539,210.8 536,213.5 533,215.7 532.2,218.7 530,221 530.7,224.7 531.5,226.7 527,225.8 522.5,225.2 518,225.8 514.2,227 511.2,229.2 508.2,230.7 506,228.5 503,226.2 500,224.7 497,224.3 494,225.2 491,223.7 488,221.7 485,220.2 482,219.8 479.3,220.7 478.7,223.7 480.2,227 477.5,227.7 470,228.5 466.2,222.5 462.5,221 460.2,218.7 461.7,215.7 460.2,212.7 458,211.2Z"/>
<path fill="#99d8c9" d="M479.3,220.7 482,219.8 485,220.2 488,221.7 491,223.7 494,225.2 497,224.3 500,224.7 503,226.2 506,228.5 508.2,230.7 510.5,232.2 512.7,231.2 515,230 516.5,231.5 514.2,233.3 511.7,234.2 509.7,235.2 508.2,236.7 506.7,238.2 504.5,236.7 502.2,235.2 499.2,233.3 495.5,230.7 492.5,228.5 489.5,227.3 486.5,227.7 483.5,229.7 481.2,228.5 480.2,227 478.7,223.7Z"/>
<path fill="#66c2a4" d="M477.5,227.7 480.2,227 481.2,228.5 483.5,229.7 486.5,227.7 489.5,227.3 492.5,228.5 495.5,230.7 499.2,233.3 502.2,235.2 504.5,236.7 506.7,238.2 506,240.5 503,242.7 500,244.2 497.7,245.7 494.7,244.2 491,242.7 486.5,241.2 482.7,239.7 479.3,239 473.7,239.3 471.8,231.5 472.2,227.7Z"/>
<path fill="#66c2a4" d="M511.2,229.2 514.2,227 518,225.8 522.5,225.2 527,225.8 531.5,226.7 529.2,229.2 525.5,230.7 521.7,231.8 518,232.7 515,233.3 514.2,233.3 516.5,231.5 515,230 512.7,231.2 510.5,232.2 508.2,230.7Z"/>
<path fill="#99d8c9" d="M508.2,236.7 509.7,235.2 511.7,234.2 514.2,233.3 518,232.7 521.7,231.8 523.2,234.5 524,237.5 521.7,239.7 518,240.5 515,239 512.7,239.7 510.5,240.5 508.7,239Z"/>
<path fill="#ccece6" d="M497.7,245.7 500,244.2 503,242.7 506,240.5 508.2,238.2 510.5,240.5 512.7,239.7 515,239 518,240.5 521.7,239.7 524,241.7 521,242.7 518,244.2 517.7,247.2 516.5,250.2 515,253.2 512,254.7 509,257 506.7,259.2 503.7,260.7 500,260.7 499.2,257.7 497.7,254 496.2,250.2 495.8,247.2Z"/>
<path fill="#edf8fb" d="M518.7,243 521.7,241.8 524.7,242.2 527.7,243.7 527.7,247.2 524.7,248.2 526.2,251.2 527,255 526.2,258.7 524,261.7 521,264.7 518.7,267 521,270 523.2,273 521,275.2 518,276.7 512,274.5 503.7,273.7 502.2,270.7 503.7,267.7 502.2,264 500.7,261 504.5,261 507.5,258.7 509.7,256.5 512,254.2 515,252 516.5,249 518,246Z"/>
<path fill="#66c2a4" d="M539,210.8 542,213 546,216 549,219 554,221 560,223.4 566,226 572,227 578,227.4 584,229 586,227.2 590.5,225 594.2,223.5 596.5,219.7 599.5,217.5 604,216.7 607,215.2 602.5,213.7 598.7,213 598,210 601,207.7 599.5,202.5 601,200.2 609.2,200.2 614.5,201.7 619.7,204.7 625,207.7 630.2,210 634.7,211.5 636.7,213 636.2,217.5 637.7,222 639.2,225.7 641.5,226.8 655,228 655,300 640,320 615,345 590,345 568.5,282.2 568.8,280 571.2,276.2 574.2,272.5 576.4,268.7 579,265 582,265 579.5,263.2 578,262.2 575,262.5 572,264.3 569,266.2 568.2,265.5 566.7,267 563,267.3 561.8,265.2 560,266.2 560,268.5 555.5,267.7 551,266.2 546.5,264.3 542.7,262.5 541.2,259.8 539,256.5 536.7,253.5 535.2,250.5 533,247.5 530,246 527.7,243.7 524.7,242.2 521.7,241.8 524,241.7 524,237.5 523.2,234.5 521.7,231.8 525.5,230.7 529.2,229.2 531.5,226.7 530.7,224.7 530,221 532.2,218.7 533,215.7 536,213.5Z"/>
<path fill="#ccece6" d="M527.7,243.7 530,246 533,247.5 535.2,250.5 536.7,253.5 539,256.5 541.2,259.8 542.7,262.5 546.5,264.3 551,266.2 555.5,267.7 560,268.5 561.8,265.2 563,267.3 566.7,267 568.2,265.5 569,266.2 572,264.3 575,262.5 578,262.2 579.5,263.2 582,265 580.2,267.7 578,270 575.7,272.2 573.5,274.5 572,276.7 572.3,280 570.5,281.2 571.2,278.2 570.2,275.2 569,272.2 566,271.5 563.7,270 560.7,270.7 561.5,273.7 562.7,276.7 564.5,280.8 566,285 560,292.5 554,300 548,321 536,321 530,297 524,285 519.5,278.2 518,276.7 521,275.2 523.2,273 521,270 518.7,267 521,264.7 524,261.7 526.2,258.7 527,255 526.2,251.2 524.7,248.2 527.7,247.2Z"/>
<path fill="#99d8c9" d="M541.2,259.8 544.2,258.7 548,261 552.5,263.2 557,265.2 560,266.2 560,268.5 555.5,267.7 551,266.2 546.5,264.3 542.7,262.5Z"/>
<path fill="#66c2a4" d="M560.7,270.7 563.7,270 566,271.5 569,272.2 570.2,275.2 571.2,278.2 570.5,281.2 567.5,280.8 564.5,280.8 562.7,276.7 561.5,273.7Z"/>
<path fill="#66c2a4" d="M561.8,265.2 566,264.3 568.2,265.5 566.7,267 563,267.3Z"/>
<path fill="#99d8c9" d="M590.2,281.5 593.2,280 596.2,280.7 598.5,283 600.7,285.2 601.5,288.2 603.7,291.2 606,294.2 607.5,297.2 608.2,300.2 606,301 603.7,300.2 603,297.2 600.7,294.2 598.5,292 595.5,291.2 593.2,292 591.7,289 591,285.2Z"/>
<path fill="#99d8c9" d="M597.7,302.5 600.7,301 603.7,300.5 606,301 608.2,300.7 608.7,304 607.5,307 605.2,308.5 602.7,310 600,309.2 598.2,306.2Z"/>
<path fill="none" d="M582,265 584.2,265 583.5,268.7 585,272.5 587.2,275.5 588.7,278.5 590.2,281.5 591,285.2 590.2,285.2 587.2,286.7 585,289 584.7,292.7 585.7,296.5 587.2,300.2 588.3,304 588.7,307.7"/>
<path fill="none" d="M605.2,282.7 603,283.7 600.7,285.2"/>
<path fill="none" d="M593.2,292 595.5,291.2 598.5,292 600.7,294.2 603,297.2 603.7,300.2 600.7,301 597.7,302.5 598.2,306.2"/>
<path fill="#006d2c" d="M634.4,239.4 636.9,237.8 640,239 643.1,241.9 644.8,245.2 643.5,247.5 640.6,248.5 638.1,247.8 636.5,244.8 634.8,242.2 633.1,240Z"/>
<path fill="none" d="M636.9,226.2 635,227.5 633.1,229.4 630.6,231.2 628.8,233.1 627.5,234.4"/>
<path fill="none" d="M539,210.6 544,207 550,205 556,206 559,203 566,203.4 572,205 578,207 584,206 590,207.4 596,209 601,210 595,206.2 599.5,202.5"/>
<path fill="#fff" d="M421.5,228 422,225 423,222.5 424.5,220 426,218.2 427,217.2 429.5,217.8 431.5,218.5 432.8,220 433.5,221.5 435,221.2 437,220 439,219.5 440.5,220.5 442,221.2 444,222.2 446,223.5 448,225 449.5,226.8 450,229 449,230.5 446,230.5 443,230 440,229.2 437,228.5 434,228.5 431,229.5 428,230.5 425,230.2 422.5,229.5Z"/>
<path fill="#fff" d="M435,217.5 437,216 440,215.5 442,216 440.5,217.5 439,219 437,219.5 435.5,219Z"/>
<path fill="#fff" d="M460.2,220.2 462.5,217.2 466.2,216 470.7,216.5 472.2,218.3 470,219.8 467.7,221 468.5,223.2 470.7,224.7 472.2,227 474.5,228.5 476.7,229.2 477.5,231.5 475.2,231.8 474.2,230 473.3,231.8 474.8,233.7 476.7,236 478.2,238.2 478.7,240.8 476,242 472.2,241.2 469.2,239.3 468.2,236 467.7,232.7 468.5,230 467,227.7 464.7,225.5 462.5,223.2Z"/>
</g>
<path fill="none" stroke="#333" stroke-opacity="0.55" stroke-width="0.4" stroke-linejoin="round" d="M351.5,244 350.5,243.5 349.5,241.8 347,241.5 344.5,241.2 343.5,239.5 343,237.5 342.5,236 343.5,234.5 343.8,232 343.5,229.5 343.5,227 344,225 346.5,224 350,224.5 354,224.8 358,225 360,225 360,222.5 359.5,219 359,215 360,213.8 356.9,213.8 353.8,211.9 357.5,210 361.9,208.1 362.5,206.9 365.6,206.9 368.8,206 370,205 371,203.8 374,200 375.2,199 376.7,198.2 378.2,197.5 377.8,194.5 378.4,191.2 380.2,189.7 382.6,188.8 383.5,190.3 382.9,193 382,196 383.5,196.7 386.5,197.2 391,199 395.5,197.2 400,196 401.8,196 403,193 403,190 404.5,189.2 406.7,188.5 406,185.8 409.7,184.7 414.2,185.2 415,183.2 410.5,182.8 406,182.8 403,181.7 401.5,178.7 401.2,175 403,172.7 404.5,170.5 403.7,168.2 403,167.5 401.5,171.2 399.2,174.2 397.7,178 396.2,181.7 397,184.7 394.7,187.7 392.5,190.7 391,193.7 388,193 385.7,189.2 384.2,186.2 383.5,184.7 380.5,187 377.5,188.2 374.8,186.7 373,184 372.7,178.7 373.7,176.5 377.5,174.2 381.2,171.2 384.2,167.5 388,163.7 392.5,160.7 397.7,158.5 403,157.7 409,157.7 414.2,158.8 419.5,160.7 425.5,162.2 430,163.7 433,166 432.2,168.2 428.5,169.3 424.7,168.7 422.2,168.2 424,171.2 427,173.5 430,172.7 433,170.5 436,168.2 437.5,166 436.7,164.2 439.7,165.2 443.5,166 448,165.2 452.5,164.2 460,163 463,161.4 468,162 472,161 474,158 473,155 476,154 479,156 481,160 483,164 485,166 487,168 489,167.4 488,164 485.6,160 483,156 485,154.6 488,157 493,156 497,153 500,150 506,148.6 512,147 518,145 524,146 530,147.4 536,148.6 539,150.6 544,152 550,153 556,154 562,153.4 568,154.6 574,156 578,158 584,157 590,156 596,155 600,155 602.5,156.3 610,157.8 617.5,158.7 625,159.3 628,160.8 634,161.7 640,162.7 644.5,161.7 646,160.5 650.5,160.8 655,160.2 661,161.2 667,163.8 671.5,166.5 676,170.2 679,172.5 676,174 680.5,175.5 685.7,177.3 682,178.5 678.2,180 676.7,183 673,182.2 668.5,183.7 665.5,184.8 667,186.7 670.7,189 673.7,192 675.2,195.7 674.5,200.2 675.2,204.7 671.5,201.7 667,198 663.2,194.2 660.2,191.2 658,188.7 659.5,185.2 661,181.5 659.5,178.5 657.2,177.7 656.5,180.7 653.5,182.2 649.7,180.7 648.2,181.5 647.5,183.7 649.7,185.2 646,186 640,185.2 634,185.7 628.7,186 626.5,189.7 624.7,195 629.5,196.8 632.5,197.7 636.2,198 639.2,200.2 642.2,204 644.5,208.5 646,213 646,219 644.5,223.5 641.5,226.2 641.9,226.2 639.4,225.6 636.9,226.2 638.1,228.8 637.5,231.2 635.6,233.1 636.2,235.6 636.9,237.8 640,239 642.5,241.9 644,245 643.1,246.9 640.6,247.8 638.5,247.2 636.9,244.4 635.2,241.9 634.4,239.4 632.5,236.9 630.6,235 627.5,234.4 625.6,235.6 623.8,236.9 622.8,235 621.9,232.5 620,231.9 618.1,233.8 615,236.2 616.9,238.1 619.4,240 621.9,240.2 624.4,239.4 626.9,240 628.8,241.9 626.2,243.1 623.8,245 623.1,246.9 625.6,249.4 628.1,251.9 630.6,254.4 632.5,257.5 633.8,260.6 633.5,263.8 632.5,266.9 630.6,270 628.8,273.1 626.2,275.6 623.1,277.5 620,278.8 616.9,280 613.8,281.2 612.7,281.8 611.2,283.7 609.7,284.5 607.5,282.7 605.2,282.2 603,284.5 602.2,287.5 603.7,290.5 606.7,293.5 609.7,296.5 612,300.2 613.5,304 612.7,307.7 610.5,310 607.5,312.2 605.2,314.5 603.7,313.7 604.5,310.7 602.7,310 600,309.2 598.2,306.2 596.2,305.5 594.3,303.2 591.7,302.5 591.1,305.5 590.7,308.5 591,311.5 592.2,314.5 593.7,317.5 595.2,320.2 597.7,322.3 600,324.7 601.8,328.3 603,332.2 603.6,335 601.5,334.9 599.1,332.2 596.7,328.7 594.4,324.7 592.2,321.2 590.5,318.2 588.9,315.2 588,311.5 588.4,307.7 587.7,307 586.5,303.2 585,299.5 583.5,296.5 581.2,295 579,296.5 577.8,294.2 577.5,290.5 576,287.5 573.7,284.5 572.2,280 571.2,278.2 569.7,280.5 568.2,277.5 566.7,279.7 564.5,280.2 563.7,281.2 560.7,282.7 557.7,285 554.7,288 551.7,291 548.7,294 546.8,297 546.9,301.5 546.8,306 546,310.5 544.4,313.8 541.5,318 539.3,311.2 537.2,306.7 535.2,301.5 533,296.2 530.7,291 529.2,286.5 527.7,283.5 524.7,282.7 521.7,280.5 519.5,278.2 518,274.8 515,273 512,271.8 508.2,271.8 503.7,271.8 501.5,272.2 497,271.5 492.5,270 489.5,268.5 490,268.1 486.9,268.8 483.8,267.5 480.6,265.6 477.5,263.1 475,260.6 472.5,258.8 470,259 469.8,262.5 471.2,265 473.8,268.1 475.6,271.2 476.9,270.6 478.1,269.8 479.4,270.6 479.4,273.1 481.2,274.4 483.8,274 486.2,273.5 488.1,271.9 489.4,272.5 490,273.1 492.5,274.4 495.6,276.9 498.1,279.4 496.9,281.9 495,284.4 493.8,287.5 491.2,290 488.1,292.5 485,294.4 482.5,296.2 478.8,297.5 475,298.8 482,296 476,299 470,302 464,304.2 462.2,300.5 461.7,293 460.6,294.4 459.4,292.5 457.5,290 455,286.2 452.5,281.9 450,277.5 447.5,273.1 445.6,269.4 443.8,266.2 441.9,263.1 441,261.2 440,257.8 439,255 439.8,251 440.4,250 440.6,247.5 440.6,243.1 438.8,241.9 435,241.2 431.2,241.9 427.5,242.2 423.8,240.6 421.2,238.8 419.8,236.5 420,234.4 422.5,231.9 421.9,230.6 419.4,231.5 417.5,231.2 415,231.9 412.5,232.5 411.9,234.4 413.1,236.9 414.4,238.8 412.5,239.4 413.8,242.2 411.9,242.5 410,240 408.1,237.5 406.9,235 405.6,234.4 405.2,232.5 404,234.4 402.8,232.5 402.2,229 400.6,228.5 400,227.8 397.5,225 395.6,222.5 393.8,221.9 392.5,220 393.1,218.8 390.6,218.8 390,219.4 389,220 388.8,221.5 390.6,223.1 393.8,226 396.9,228.5 400,230.6 401.9,232.5 400.2,234 398.5,233.1 399,235.6 397.8,238.4 396,237.8 396.2,235.2 394.4,233.1 391.9,231.2 388.8,228.5 386.2,226 384.4,223.5 381.9,221.9 379.4,222.5 378.1,223.1 375,224.4 371.9,224.4 368.8,224.8 368.8,227.2 368.8,227.5 368,229 366,230.5 364.5,232 363,234 362.5,236 362.2,238 360.5,239.5 358.5,241 356,241.8 353.5,242Z"/>
<g fill="none" stroke="#333" stroke-opacity="0.55" stroke-width="0.4" stroke-linejoin="round">
<path d="M177,348.6 180.4,350 183,349 185.6,346 188.4,343 190,339.4"/>
<path d="M201.6,348 198,350 195,353 193.6,357 196,361 200,364 202,365.4 207,364 211,363.4 213,367 214,371 218,373.4 223,376 227,379 230,381.4 231,385 232.4,389 233.6,393 237,395 239,399 241,403 240.4,407 239,410"/>
<path d="M202,365.4 204,368 205,372 205.6,377 204.4,382 204.4,386 203.6,386"/>
<path d="M204.4,386 205.6,390 207,395 209,399 211,396"/>
<path d="M221.6,395 222.4,391 225,389 229,390 232.4,389"/>
<path d="M229.6,324 229.6,326.6 231,330 231.6,333"/>
<path d="M199,305.4 198,309 196.4,312 198,315 201,317 205,318.6 207,321 206.4,325 208,328 208,332"/>
<path d="M239,410 242,411 243,415 242.4,407.4 240.4,412 237.6,415 236,417.4"/>
<path d="M223,328 225,330.6 226.4,333.4 229,334.2 231.6,333 234,332.2 237,332.6 240,332.6"/>
</g>
<g font-family="Liberation Sans, sans-serif" font-size="13" fill="#5b5b5b" text-anchor="middle">
<rect x="215.5" y="537.5" width="48" height="11" fill="url(#hatch)" stroke="#c8c8c8" stroke-width="1"/>
<line x1="239.5" y1="534" x2="239.5" y2="537.5" stroke="#b0b0b0" stroke-width="1"/>
<text x="239.5" y="530">No data</text>
<path d="M282.8,543 L288.7,537.5 H341.3 V548.5 H288.7 Z" fill="#edf8fb"/>
<rect x="341.3" y="537.5" width="58.7" height="11" fill="#ccece6"/>
<rect x="400" y="537.5" width="58.6" height="11" fill="#99d8c9"/>
<rect x="458.6" y="537.5" width="58.6" height="11" fill="#66c2a4"/>
<rect x="517.2" y="537.5" width="58.6" height="11" fill="#2ca25f"/>
<path d="M575.8,537.5 H628.6 L634.3,543 L628.6,548.5 H575.8 Z" fill="#006d2c"/>
<path d="M282.8,543 L288.7,537.5 H628.6 L634.3,543 L628.6,548.5 H288.7 Z" fill="none" stroke="#b8b8b8" stroke-width="0.8"/>
<g stroke="#8a8a8a" stroke-width="1"><line x1="341.3" y1="534" x2="341.3" y2="548.5"/><line x1="400" y1="534" x2="400" y2="548.5"/><line x1="458.6" y1="534" x2="458.6" y2="548.5"/><line x1="517.2" y1="534" x2="517.2" y2="548.5"/><line x1="575.8" y1="534" x2="575.8" y2="548.5"/></g>
<text x="341.3" y="530">4 cm</text><text x="400" y="530">6 cm</text><text x="458.6" y="530">8 cm</text><text x="517.2" y="530">10 cm</text><text x="575.8" y="530">12 cm</text>
</g>

</svg>
</body></html>
